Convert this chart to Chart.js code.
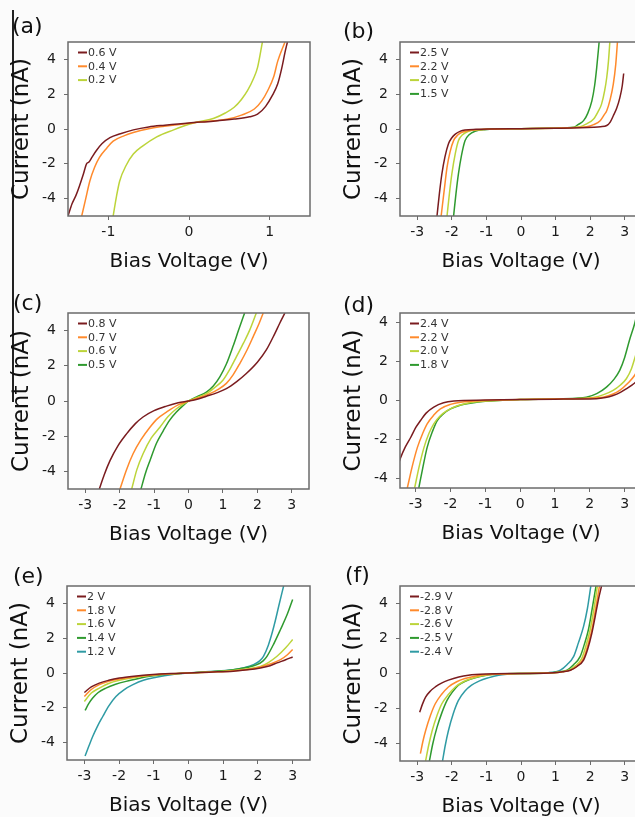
<!DOCTYPE html>
<html>
<head>
<meta charset="utf-8">
<script src="https://cdn.jsdelivr.net/npm/chart.js@4.4.0/dist/chart.umd.min.js"></script>
<style>
    html, body { margin: 0; padding: 0; }
    body { width: 635px; height: 817px; overflow: hidden; position: relative; background: #fbfbfb; }
    canvas { position: absolute; }
    .edge { position: absolute; left: 12px; top: 10px; width: 1.5px; height: 392px; background: #222; }
</style>
</head>
<body>
<div class="edge"></div>
<script>
// tick labels
const yTicks = [-4, -2, 0, 2, 4];
const xTicksNarrow = [-1, 0, 1];
const xTicksWide = [-3, -2, -1, 0, 1, 2, 3];

// (a) set points
const aNames = ["0.6 V", "0.4 V", "0.2 V"];
const a06 = [[-1.5,-5],[-1.45,-4.3],[-1.4,-3.8],[-1.36,-3.3],[-1.31,-2.6],[-1.27,-2.0],[-1.24,-1.9],[-1.2,-1.6],[-1.15,-1.25],[-1.08,-0.85],[-0.98,-0.5],[-0.85,-0.27],[-0.69,-0.05],[-0.5,0.12],[-0.3,0.22],[0,0.35],[0.3,0.45],[0.56,0.57],[0.75,0.7],[0.85,0.85],[0.95,1.3],[1.03,1.9],[1.1,2.6],[1.15,3.5],[1.19,4.4],[1.22,5]];
const a04 = [[-1.33,-5],[-1.28,-4.0],[-1.23,-3.0],[-1.17,-2.2],[-1.11,-1.63],[-1.02,-1.1],[-0.94,-0.7],[-0.8,-0.38],[-0.69,-0.2],[-0.5,0.02],[-0.36,0.13],[0,0.33],[0.3,0.47],[0.48,0.57],[0.65,0.8],[0.81,1.15],[0.9,1.6],[0.975,2.2],[1.05,3.0],[1.1,3.9],[1.19,5]];
const a02 = [[-0.94,-5],[-0.9,-3.9],[-0.86,-3.0],[-0.78,-2.1],[-0.69,-1.44],[-0.58,-1.0],[-0.4,-0.45],[-0.19,-0.05],[0,0.27],[0.1,0.4],[0.31,0.62],[0.45,0.92],[0.56,1.25],[0.65,1.7],[0.725,2.2],[0.8,2.9],[0.85,3.54],[0.91,5]];

// (b) tip height
const bNames = ["2.5 V", "2.2 V", "2.0 V", "1.5 V"];
const b25 = [[-2.43,-5],[-2.36,-3.7],[-2.29,-2.6],[-2.2,-1.6],[-2.1,-0.86],[-2.0,-0.5],[-1.9,-0.29],[-1.75,-0.12],[-1.62,-0.06],[-1.3,-0.02],[-0.95,0],[0,0.02],[1,0.04],[2.1,0.1],[2.3,0.13],[2.48,0.2],[2.58,0.4],[2.67,0.76],[2.77,1.2],[2.86,1.8],[2.93,2.5],[2.97,3.19]];
const b22 = [[-2.31,-5],[-2.22,-3.5],[-2.14,-2.2],[-2.05,-1.3],[-1.95,-0.67],[-1.83,-0.35],[-1.71,-0.19],[-1.43,-0.06],[-1.0,-0.02],[0,0.02],[1,0.05],[1.9,0.13],[2.1,0.25],[2.29,0.48],[2.4,0.8],[2.48,1.05],[2.58,1.7],[2.67,2.58],[2.74,3.7],[2.79,5]];
const b20 = [[-2.14,-5],[-2.07,-3.7],[-2.0,-2.58],[-1.9,-1.4],[-1.81,-0.67],[-1.7,-0.35],[-1.52,-0.13],[-1.2,-0.04],[0,0.02],[1,0.05],[1.71,0.13],[1.9,0.3],[2.1,0.57],[2.23,1.0],[2.33,1.43],[2.42,2.2],[2.48,2.96],[2.53,3.9],[2.57,5]];
const b15 = [[-1.95,-5],[-1.88,-3.7],[-1.81,-2.58],[-1.72,-1.5],[-1.62,-0.67],[-1.5,-0.33],[-1.33,-0.13],[-1.05,-0.04],[0,0.02],[1,0.05],[1.52,0.1],[1.65,0.25],[1.81,0.48],[1.93,0.9],[2.05,1.62],[2.13,2.5],[2.19,3.53],[2.26,5]];

// (c)
const cNames = ["0.8 V", "0.7 V", "0.6 V", "0.5 V"];
const c08 = [[-2.59,-5],[-2.45,-4.2],[-2.28,-3.39],[-2.05,-2.55],[-1.8,-1.87],[-1.55,-1.3],[-1.32,-0.91],[-1.0,-0.55],[-0.64,-0.29],[-0.3,-0.1],[0,0],[0.25,0.1],[0.52,0.27],[0.8,0.45],[1.1,0.7],[1.4,1.1],[1.68,1.56],[2.0,2.2],[2.26,2.9],[2.5,3.8],[2.65,4.42],[2.8,5]];
const c07 = [[-1.99,-5],[-1.8,-3.9],[-1.61,-3.0],[-1.38,-2.2],[-1.12,-1.49],[-0.9,-1.0],[-0.64,-0.63],[-0.3,-0.22],[0,0],[0.3,0.18],[0.62,0.42],[0.85,0.65],[1.1,1.0],[1.3,1.5],[1.49,2.13],[1.7,2.9],[1.88,3.66],[2.05,4.4],[2.17,5]];
const c06 = [[-1.65,-5],[-1.5,-3.9],[-1.32,-3.0],[-1.08,-2.1],[-0.83,-1.49],[-0.6,-0.9],[-0.35,-0.44],[0,0],[0.25,0.2],[0.52,0.42],[0.75,0.75],[1.0,1.18],[1.2,1.8],[1.39,2.51],[1.6,3.3],[1.78,4.04],[1.97,5]];
const c05 = [[-1.38,-5],[-1.25,-4.1],[-1.12,-3.39],[-0.93,-2.4],[-0.73,-1.68],[-0.55,-1.1],[-0.35,-0.63],[-0.15,-0.25],[0,0],[0.25,0.25],[0.52,0.51],[0.72,0.85],[0.91,1.37],[1.1,2.1],[1.29,3.09],[1.45,4.0],[1.63,5]];

// (d)
const dNames = ["2.4 V", "2.2 V", "2.0 V", "1.8 V"];
const d24 = [[-3.5,-3.3],[-3.43,-2.93],[-3.3,-2.4],[-3.14,-1.89],[-3.0,-1.4],[-2.86,-1.03],[-2.7,-0.65],[-2.48,-0.34],[-2.2,-0.12],[-1.9,-0.03],[-1,0.02],[0,0.05],[1,0.07],[2.19,0.09],[2.45,0.15],[2.67,0.26],[2.88,0.42],[3.05,0.6],[3.2,0.78],[3.29,0.9],[3.5,1.3]];
const d22 = [[-3.24,-4.5],[-3.1,-3.4],[-2.95,-2.41],[-2.8,-1.7],[-2.67,-1.2],[-2.48,-0.75],[-2.29,-0.43],[-2.0,-0.2],[-1.71,-0.09],[-1,0],[0,0.05],[1,0.08],[2.0,0.12],[2.38,0.17],[2.65,0.32],[2.86,0.52],[3.1,0.9],[3.29,1.3],[3.5,2.0]];
const d20 = [[-3.03,-4.5],[-2.9,-3.4],[-2.76,-2.41],[-2.62,-1.7],[-2.48,-1.2],[-2.3,-0.8],[-2.1,-0.52],[-1.8,-0.27],[-1.52,-0.14],[-1,-0.03],[0,0.05],[1,0.08],[1.8,0.1],[2.1,0.15],[2.4,0.3],[2.67,0.52],[2.88,0.8],[3.05,1.12],[3.2,1.65],[3.29,2.16],[3.5,3.4]];
const d18 = [[-2.91,-4.5],[-2.8,-3.5],[-2.67,-2.41],[-2.52,-1.6],[-2.38,-1.03],[-2.2,-0.68],[-2.0,-0.43],[-1.7,-0.23],[-1.43,-0.14],[-1,-0.04],[0,0.05],[1,0.08],[1.6,0.12],[1.9,0.17],[2.2,0.35],[2.48,0.69],[2.7,1.1],[2.86,1.55],[3.0,2.2],[3.14,3.1],[3.29,3.96],[3.36,4.5]];

// (e)
const eNames = ["2 V", "1.8 V", "1.6 V", "1.4 V", "1.2 V"];
const e20 = [[-3,-1.12],[-2.8,-0.8],[-2.57,-0.58],[-2.3,-0.42],[-1.99,-0.29],[-1.5,-0.17],[-1.12,-0.1],[-0.5,-0.03],[0,0],[0.6,0.05],[1.29,0.1],[1.7,0.18],[2.07,0.29],[2.35,0.42],[2.55,0.58],[2.8,0.76],[3,0.92]];
const e18 = [[-3,-1.35],[-2.8,-0.95],[-2.57,-0.67],[-2.3,-0.48],[-1.99,-0.35],[-1.5,-0.2],[-1.12,-0.13],[-0.5,-0.04],[0,0],[0.6,0.05],[1.29,0.12],[1.7,0.2],[2.07,0.35],[2.4,0.55],[2.65,0.77],[2.85,1.05],[3,1.35]];
const e16 = [[-3,-1.64],[-2.8,-1.15],[-2.57,-0.87],[-2.3,-0.6],[-1.99,-0.42],[-1.5,-0.24],[-1.12,-0.15],[-0.5,-0.05],[0,0],[0.6,0.06],[1.29,0.15],[1.7,0.24],[2.07,0.38],[2.3,0.6],[2.55,0.96],[2.8,1.45],[3,1.92]];
const e14 = [[-2.98,-2.15],[-2.87,-1.75],[-2.76,-1.44],[-2.6,-1.12],[-2.38,-0.87],[-2.1,-0.65],[-1.8,-0.48],[-1.4,-0.3],[-1.12,-0.19],[-0.5,-0.06],[0,0],[0.6,0.07],[1.29,0.19],[1.7,0.33],[1.97,0.48],[2.15,0.7],[2.26,0.96],[2.45,1.65],[2.65,2.5],[2.85,3.4],[3,4.23]];
const e12 = [[-2.98,-4.77],[-2.87,-4.2],[-2.76,-3.65],[-2.62,-3.05],[-2.47,-2.5],[-2.3,-1.9],[-2.09,-1.35],[-1.85,-0.95],[-1.6,-0.67],[-1.3,-0.42],[-0.93,-0.25],[-0.5,-0.1],[0,0],[0.6,0.08],[1.29,0.19],[1.6,0.3],[1.87,0.48],[2.05,0.7],[2.16,0.96],[2.3,1.6],[2.41,2.31],[2.5,3.0],[2.6,3.85],[2.74,5]];

// (f)
const fNames = ["-2.9 V", "-2.8 V", "-2.6 V", "-2.5 V", "-2.4 V"];
const f29 = [[-2.93,-2.21],[-2.85,-1.75],[-2.76,-1.35],[-2.62,-1.0],[-2.48,-0.77],[-2.3,-0.55],[-2.1,-0.38],[-1.8,-0.2],[-1.52,-0.1],[-1,-0.03],[0,0],[0.95,0.04],[1.2,0.1],[1.43,0.19],[1.62,0.4],[1.81,0.77],[1.93,1.4],[2.05,2.31],[2.15,3.3],[2.24,4.23],[2.33,5]];
const f28 = [[-2.91,-4.58],[-2.84,-3.9],[-2.76,-3.27],[-2.62,-2.4],[-2.48,-1.73],[-2.3,-1.2],[-2.1,-0.77],[-1.86,-0.47],[-1.62,-0.29],[-1.3,-0.14],[-0.95,-0.06],[0,0],[0.95,0.04],[1.2,0.1],[1.43,0.19],[1.62,0.42],[1.81,0.87],[1.93,1.6],[2.05,2.5],[2.15,3.6],[2.27,5]];
const f26 = [[-2.76,-5],[-2.67,-4.1],[-2.57,-3.27],[-2.43,-2.4],[-2.29,-1.73],[-2.1,-1.2],[-1.9,-0.77],[-1.67,-0.47],[-1.43,-0.29],[-1.1,-0.12],[-0.7,-0.04],[0,0],[0.95,0.04],[1.15,0.1],[1.38,0.19],[1.58,0.45],[1.76,0.87],[1.88,1.6],[2.0,2.5],[2.1,3.6],[2.21,5]];
const f25 = [[-2.65,-5],[-2.55,-4.0],[-2.43,-3.08],[-2.29,-2.25],[-2.14,-1.54],[-1.98,-1.05],[-1.81,-0.67],[-1.58,-0.42],[-1.33,-0.25],[-1.0,-0.1],[-0.6,-0.03],[0,0],[0.9,0.04],[1.1,0.1],[1.33,0.19],[1.52,0.5],[1.71,0.96],[1.83,1.65],[1.95,2.5],[2.05,3.6],[2.17,5]];
const f24 = [[-2.27,-5],[-2.19,-4.1],[-2.1,-3.27],[-1.96,-2.3],[-1.81,-1.54],[-1.62,-1.0],[-1.43,-0.67],[-1.2,-0.42],[-0.95,-0.25],[-0.65,-0.1],[-0.38,-0.04],[0,0],[0.8,0.05],[1.0,0.1],[1.14,0.19],[1.33,0.5],[1.52,0.96],[1.66,1.75],[1.81,2.69],[1.92,3.7],[2.02,5]];

const colors = ["#7a1c1f", "#ff8a2c", "#bcd43a", "#2f9a2f", "#2f9ba4"];

// page layout: plot box edges in page pixels, label offset from box corner
const panels = [
    {label: "(a)", names: aNames, series: [a06, a04, a02], L: 68, R: 310, T: 42, B: 216, xMin: -1.5, xMax: 1.5, yMax: 5, xTicks: xTicksNarrow, lx: -56, ly: -9},
    {label: "(b)", names: bNames, series: [b25, b22, b20, b15], L: 400, R: 642, T: 42, B: 216, xMin: -3.5, xMax: 3.5, yMax: 5, xTicks: xTicksWide, lx: -57, ly: -4},
    {label: "(c)", names: cNames, series: [c08, c07, c06, c05], L: 68, R: 309, T: 313, B: 489, xMin: -3.5, xMax: 3.5, yMax: 5, xTicks: xTicksWide, lx: -55, ly: -3},
    {label: "(d)", names: dNames, series: [d24, d22, d20, d18], L: 400, R: 642, T: 313, B: 488, xMin: -3.45, xMax: 3.5, yMax: 4.5, xTicks: xTicksWide, lx: -57, ly: -1},
    {label: "(e)", names: eNames, series: [e20, e18, e16, e14, e12], L: 67, R: 310, T: 586, B: 760, xMin: -3.5, xMax: 3.5, yMax: 5, xTicks: xTicksWide, lx: -54, ly: -3},
    {label: "(f)", names: fNames, series: [f29, f28, f26, f25, f24], L: 400, R: 642, T: 586, B: 761, xMin: -3.5, xMax: 3.5, yMax: 5, xTicks: xTicksWide, lx: -55, ly: -4}
];

const Y_AXIS_W = 68;
const TOP_PAD = 42;
const X_AXIS_H = 56;
const FONT = "'DejaVu Sans', sans-serif";

const framePlugin = {
    id: "frame",
    afterDraw: (chart) => {
        const {ctx, chartArea: {left, top, right, bottom}} = chart;
        const opts = chart.options.plugins.frame;
        ctx.save();
        ctx.strokeStyle = "#6b6b6b";
        ctx.lineWidth = 1.5;
        ctx.strokeRect(left, top, right - left, bottom - top);

        // legend: short line + name, stacked
        ctx.font = "11px " + FONT;
        ctx.textBaseline = "middle";
        ctx.textAlign = "left";
        chart.data.datasets.forEach((ds, i) => {
            const y = top + 10.5 + i * 13.8;
            ctx.strokeStyle = ds.borderColor;
            ctx.lineWidth = 2;
            ctx.beginPath();
            ctx.moveTo(left + 10, y);
            ctx.lineTo(left + 19, y);
            ctx.stroke();
            ctx.fillStyle = "#333";
            ctx.fillText(ds.label, left + 20, y + 0.5);
        });

        // panel letter
        ctx.font = "22px " + FONT;
        ctx.textBaseline = "alphabetic";
        ctx.fillStyle = "#111";
        ctx.fillText(opts.label, left + opts.lx, top + opts.ly);
        ctx.restore();
    }
};

const beforePlot = {
    id: "plotBg",
    beforeDraw: (chart) => {
        const {ctx, chartArea: {left, top, right, bottom}} = chart;
        ctx.save();
        ctx.fillStyle = "#ffffff";
        ctx.fillRect(left, top, right - left, bottom - top);
        ctx.restore();
    }
};

panels.forEach((p) => {
    const canvas = document.createElement("canvas");
    const w = (p.R - p.L) + Y_AXIS_W + 4;
    const h = (p.B - p.T) + TOP_PAD + X_AXIS_H;
    canvas.width = w;
    canvas.height = h;
    canvas.style.left = (p.L - Y_AXIS_W) + "px";
    canvas.style.top = (p.T - TOP_PAD) + "px";
    document.body.appendChild(canvas);

    new Chart(canvas.getContext("2d"), {
        type: "line",
        data: {
            datasets: p.series.map((s, i) => ({
                label: p.names[i],
                data: s.map(([x, y]) => ({x: x, y: y})),
                borderColor: colors[i],
                borderWidth: 1.5,
                pointRadius: 0,
                cubicInterpolationMode: "monotone",
                fill: false
            }))
        },
        options: {
            responsive: false,
            animation: false,
            devicePixelRatio: 1,
            layout: {padding: {left: 0, top: TOP_PAD, right: 4, bottom: 0}},
            plugins: {
                legend: {display: false},
                tooltip: {enabled: false},
                frame: {label: p.label, lx: p.lx, ly: p.ly}
            },
            scales: {
                x: {
                    type: "linear",
                    min: p.xMin,
                    max: p.xMax,
                    afterFit: (s) => { s.height = X_AXIS_H; },
                    afterBuildTicks: (s) => { s.ticks = p.xTicks.map((v) => ({value: v})); },
                    grid: {drawOnChartArea: false, tickLength: 4, color: "#6b6b6b"},
                    border: {display: false},
                    ticks: {font: {family: FONT, size: 14}, color: "#1a1a1a", padding: 4, maxRotation: 0},
                    title: {display: true, text: "Bias Voltage (V)", font: {family: FONT, size: 20, lineHeight: 1}, color: "#111", padding: {top: 0, bottom: 0}}
                },
                y: {
                    min: -p.yMax,
                    max: p.yMax,
                    afterFit: (s) => { s.width = Y_AXIS_W; },
                    afterBuildTicks: (s) => { s.ticks = yTicks.map((v) => ({value: v})); },
                    grid: {drawOnChartArea: false, tickLength: 4, color: "#6b6b6b"},
                    border: {display: false},
                    ticks: {font: {family: FONT, size: 14}, color: "#1a1a1a", padding: 8},
                    title: {display: true, text: "Current (nA)", font: {family: FONT, size: 23, lineHeight: 1}, color: "#111", padding: {top: 11, bottom: 0}}
                }
            }
        },
        plugins: [beforePlot, framePlugin]
    });
});
</script>
</body>
</html>
